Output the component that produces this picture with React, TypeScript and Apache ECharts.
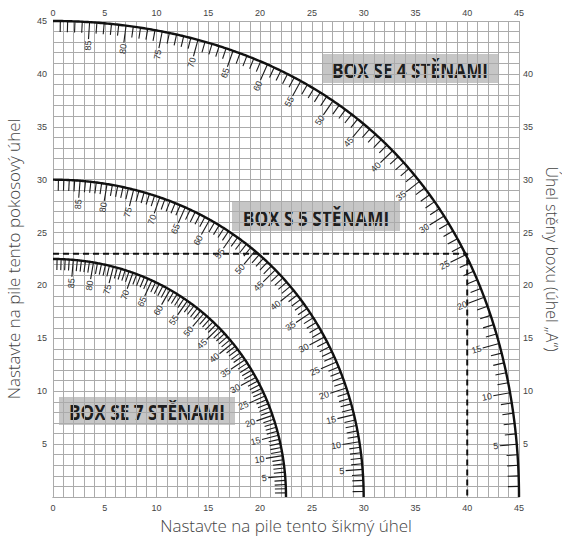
import React, { useEffect, useRef } from "react";
import * as echarts from "echarts";

// ---- data ----
const boxNames = ["BOX SE 4 STĚNAMI", "BOX S 5 STĚNAMI", "BOX SE 7 STĚNAMI"];
// half corner angle of each box (deg): curve reaches this value on both axes
const cornerAngles = [45, 30, 22.5];
// how the wall-angle scale is laid on each curve:
// "wall" = at the computed compound angle, "polar" = at polar angle A
const scaleModes = ["wall", "polar", "polar"];
// wall angle "A" scale (deg): minor ticks every 1, labelled every 5
const wallAngleMin = 1;
const wallAngleMax = 89;
const wallLabelStep = 5;
// example reading (dashed guide)
const guideBevel = 40;
const guideMiter = 23;
const guidePath = [
  [0, guideMiter],
  [guideBevel, guideMiter],
  [guideBevel, 0],
];
const axisMin = 0;
const axisMax = 45;
const axisLabelStep = 5;

// ---- layout ----
const W = 562;
const H = 538;
const GRID = { left: 53, right: 43, top: 21, bottom: 41 };
const boxRects = [
  { x: 322, y: 54, w: 176, h: 29 },
  { x: 232, y: 202, w: 168, h: 29 },
  { x: 59, y: 397, w: 176, h: 28 },
];
const gridColor = "#ababab";
const tickFont = "'Liberation Sans', Arial, sans-serif";
const nameFont = "'Open Sans', 'Noto Sans', sans-serif";

const deg = Math.PI / 180;

function curvePoint(k: number, a: number): number[] {
  const bevel = Math.asin(Math.cos(a * deg) * Math.sin(k * deg)) / deg;
  const miter = Math.atan(Math.sin(a * deg) * Math.tan(k * deg)) / deg;
  return [bevel, miter];
}

// parameter on the curve whose polar angle (data space) equals phi
function paramAtPolar(k: number, phi: number): number {
  let lo = 0;
  let hi = 90;
  for (let i = 0; i < 40; i++) {
    const mid = (lo + hi) / 2;
    const p = curvePoint(k, mid);
    const ang = Math.atan2(p[1], p[0]) / deg;
    if (ang < phi) lo = mid;
    else hi = mid;
  }
  return (lo + hi) / 2;
}

function renderCurve(params: any, api: any) {
  const k = api.value(0) as number;
  const mode = scaleModes[params.dataIndex];
  const pt = (a: number) => api.coord(curvePoint(k, a));
  const o = api.coord([0, 0]);
  const children: any[] = [];
  const pts: number[][] = [];
  for (let a = 0; a <= 90.0001; a += 0.25) pts.push(pt(a));
  for (let A = wallAngleMin; A <= wallAngleMax; A++) {
    const a = mode === "polar" ? paramAtPolar(k, A) : A;
    const p = pt(a);
    const p1 = pt(a - 0.05);
    const p2 = pt(a + 0.05);
    let tx = p2[0] - p1[0];
    let ty = p2[1] - p1[1];
    const len = Math.hypot(tx, ty) || 1;
    tx /= len;
    ty /= len;
    let nx = -ty;
    let ny = tx;
    if ((o[0] - p[0]) * nx + (o[1] - p[1]) * ny < 0) {
      nx = -nx;
      ny = -ny;
    }
    const major = A % wallLabelStep === 0;
    const L = major ? 17 : 11;
    const e = [p[0] + nx * L, p[1] + ny * L];
    children.push({
      type: "line",
      shape: { x1: p[0], y1: p[1], x2: e[0], y2: e[1] },
      style: { stroke: "#1a1a1a", lineWidth: 1.1 },
    });
    if (major) {
      const rot = Math.atan2(ny, -nx);
      children.push({
        type: "text",
        x: e[0] + nx * 1.5,
        y: e[1] + ny * 1.5,
        rotation: rot,
        style: {
          text: String(A),
          align: "right",
          verticalAlign: "middle",
          fontSize: 9,
          fill: "#333",
          fontFamily: tickFont,
        },
      });
    }
  }
  children.push({
    type: "polyline",
    shape: { points: pts },
    style: { stroke: "#111", lineWidth: 2.4, fill: null },
  });
  return { type: "group", children };
}

export default function App() {
  const ref = useRef<HTMLDivElement>(null);
  useEffect(() => {
    if (!ref.current) return;
    const chart = echarts.init(ref.current, undefined, { renderer: "svg" });
    const axisLabelBase = {
      fontSize: 9,
      color: "#444",
      fontFamily: tickFont,
      interval: 0,
    };
    const common = {
      type: "value",
      min: axisMin,
      max: axisMax,
      interval: 1,
      axisTick: { show: false },
      axisLine: { show: true, lineStyle: { color: gridColor, width: 1 } },
    };
    const nameStyle = { fontSize: 17, color: "#444", fontFamily: nameFont, fontWeight: 300 };
    const option: any = {
      animation: false,
      backgroundColor: "#fff",
      grid: { ...GRID, containLabel: false, outerBoundsMode: "none" },
      xAxis: [
        {
          ...common,
          position: "bottom",
          splitLine: { show: true, lineStyle: { color: gridColor, width: 1 } },
          axisLabel: {
            ...axisLabelBase,
            margin: 6,
            formatter: (v: number) => (v % axisLabelStep === 0 ? String(v) : ""),
          },
          name: "Nastavte na pile tento šikmý úhel",
          nameLocation: "middle",
          nameGap: 16,
          nameTextStyle: nameStyle,
        },
        {
          ...common,
          position: "top",
          splitLine: { show: false },
          axisLabel: {
            ...axisLabelBase,
            margin: 4,
            formatter: (v: number) => (v % axisLabelStep === 0 ? String(v) : ""),
          },
        },
      ],
      yAxis: [
        {
          ...common,
          position: "left",
          splitLine: { show: true, lineStyle: { color: gridColor, width: 1 } },
          axisLabel: {
            ...axisLabelBase,
            margin: 6,
            formatter: (v: number) => (v % axisLabelStep === 0 && v > 0 ? String(v) : ""),
          },
          name: "Nastavte na pile tento pokosový úhel",
          nameLocation: "middle",
          nameGap: 31,
          nameTextStyle: nameStyle,
        },
        {
          ...common,
          position: "right",
          splitLine: { show: false },
          axisLabel: {
            ...axisLabelBase,
            margin: 4,
            formatter: (v: number) =>
              v % axisLabelStep === 0 && v > 0 && v < axisMax ? String(v) : "",
          },
          name: "Úhel stěny boxu (úhel „A“)",
          nameLocation: "middle",
          nameGap: 20,
          nameRotate: -90,
          nameTextStyle: { ...nameStyle, fontSize: 16 },
        },
      ],
      series: [
        {
          type: "line",
          xAxisIndex: 0,
          yAxisIndex: 0,
          data: guidePath,
          symbol: "none",
          lineStyle: { color: "#111", width: 2, type: [6, 4] },
          z: 2,
        },
        {
          type: "custom",
          xAxisIndex: 0,
          yAxisIndex: 0,
          clip: false,
          data: cornerAngles.map((k) => [k, 0]),
          renderItem: renderCurve,
          z: 3,
        },
      ],
      graphic: boxNames.map((name, i) => ({
        type: "group",
        z: 100,
        children: [
          {
            type: "rect",
            shape: { x: boxRects[i].x, y: boxRects[i].y, width: boxRects[i].w, height: boxRects[i].h },
            style: { fill: "#c6c6c6" },
          },
          {
            type: "text",
            x: boxRects[i].x + boxRects[i].w / 2,
            y: boxRects[i].y + boxRects[i].h / 2 + 1,
            scaleX: 0.82,
            style: {
              text: name,
              align: "center",
              verticalAlign: "middle",
              fontSize: 21,
              fontWeight: "bold",
              fill: "#1e1e1e",
              fontFamily: "'Open Sans', 'Noto Sans', sans-serif",
            },
          },
        ],
      })),
    };
    chart.setOption(option);
    return () => chart.dispose();
  }, []);
  return (
    <div
      ref={ref}
      style={{ position: "fixed", left: 0, top: 0, width: W, height: H, background: "#fff" }}
    />
  );
}
